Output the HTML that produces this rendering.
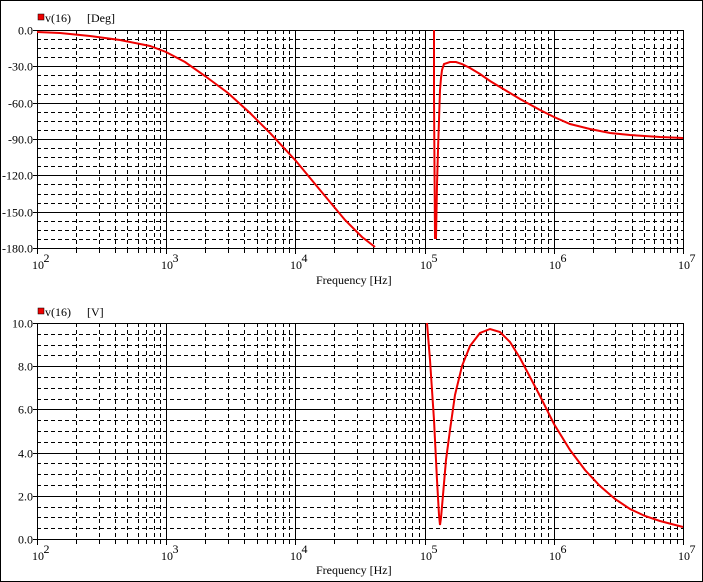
<!DOCTYPE html>
<html><head><meta charset="utf-8"><style>
body{margin:0;background:#fff}
svg{display:block}
text{font-family:"Liberation Serif",serif;font-size:12px;fill:#000}
</style></head><body>
<svg width="703" height="582" xmlns="http://www.w3.org/2000/svg">
<rect x="0.5" y="0.5" width="702" height="581" fill="#fff" stroke="#000"/>
<g id="g1"></g>
<text x="45" y="22">v(16)</text><text x="87" y="22">[Deg]</text><rect x="38" y="14" width="6" height="6" fill="#e00" stroke="#000" stroke-width="0.5"/>
<text x="45" y="316">v(16)</text><text x="87" y="316">[V]</text><rect x="38" y="308" width="6" height="6" fill="#e00" stroke="#000" stroke-width="0.5"/>
<text x="316" y="284" font-size="12">Frequency [Hz]</text>
<text x="316" y="574" font-size="12">Frequency [Hz]</text>
<polyline fill="none" stroke="#e00" stroke-width="2" points="37,32 60,33 90,36 120,40 150,46 166,52 185,62 205,76 228,93 250,113 270,133 296,161 320,190 345,220 362,237 375,247"/>
<polyline fill="none" stroke="#e00" stroke-width="2" points="434,30 434,97 435,238 436,238 437,185 438,150 439,120 440,90 441,78 442,70 444,64 450,62 456,62 462,64 470,68 480,74 490,81 500,87 520,99 540,110 554,117 570,124 590,129 610,133 630,135 660,137 683,138"/>
<polyline fill="none" stroke="#e00" stroke-width="2" points="427,323 430,360 434,420 437,480 439,515 440,525 441,518 443,495 446,460 450,430 455,395 462,366 470,346 480,333 490,329 500,332 510,342 520,358 530,377 540,396 554,424 570,450 585,470 600,486 615,499 630,509 645,516 660,521 683,527"/>
</svg>
<script>
(function(){
var g=document.getElementById('g1'),s='';
var x0=37,x1=683,dw=(x1-x0)/5;
function L(a,b,c,d,dash){s+='<line x1="'+a+'" y1="'+b+'" x2="'+c+'" y2="'+d+'" stroke="#000" stroke-width="1"'+(dash?' stroke-dasharray="4,3"':'')+'/>';}
function panel(yt,yb,nmaj,labels){
 var h=(yb-yt)/nmaj;
 for(var i=0;i<nmaj;i++)for(var k=1;k<4;k++){var y=Math.round(yt+h*i+h*k/4)+0.5;L(x0,y,x1,y,1);}
 for(var d=0;d<5;d++)for(var m=2;m<10;m++){var x=Math.round(x0+dw*(d+Math.log10(m)))+0.5;L(x,yt,x,yb,1);L(x,yb,x,yb+5,0);}
 for(var i=0;i<=nmaj;i++){var y=Math.round(yt+h*i)+0.5;L(x0-4,y,x1,y,0);s+='<text x="'+(x0-4)+'" y="'+(y+4)+'" text-anchor="end">'+labels[i]+'</text>';}
 for(var d=0;d<=5;d++){var x=Math.round(x0+dw*d)+0.5;L(x,yt,x,yb+6,0);s+='<text x="'+(x+0.5)+'" y="'+(yb+21)+'" text-anchor="middle">10</text><text x="'+(x+6)+'" y="'+(yb+14)+'" font-size="10">'+(d+2)+'</text>';}
}
panel(30,248,6,['0.0','-30.0','-60.0','-90.0','-120.0','-150.0','-180.0']);
panel(323,539,5,['10.0','8.0','6.0','4.0','2.0','0.0']);
g.innerHTML=s;
})();
</script>
</body></html>
